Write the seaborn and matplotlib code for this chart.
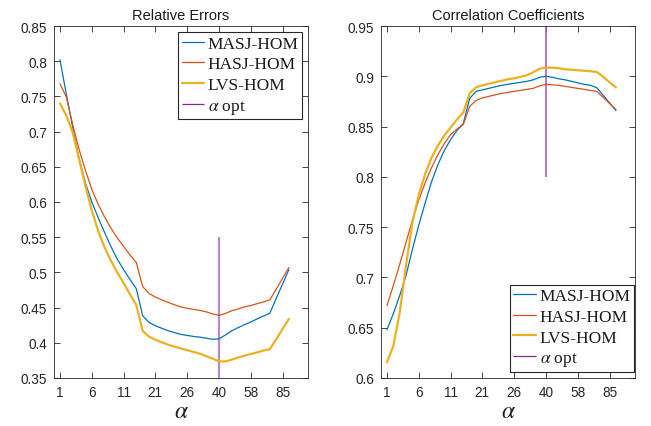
import matplotlib
matplotlib.use("Agg")
import matplotlib.pyplot as plt
import seaborn as sns
import numpy as np
import pandas as pd

# ---------------- data ----------------
idx = list(range(1, 38))
xtick_pos = [1, 6, 11, 16, 21, 26, 31, 36]
xtick_labels = ['1', '6', '11', '21', '26', '40', '58', '85']
alpha_opt = 26

re_masj = [0.802, 0.753, 0.706, 0.662, 0.627, 0.600, 0.578, 0.557, 0.537, 0.519,
           0.504, 0.490, 0.477, 0.4385, 0.429, 0.4243, 0.4206, 0.4172, 0.4144, 0.412,
           0.4105, 0.409, 0.408, 0.4065, 0.405, 0.4055, 0.411, 0.417, 0.4215, 0.4257,
           0.4295, 0.434, 0.438, 0.442, 0.463, 0.4835, 0.504]
re_hasj = [0.768, 0.749, 0.710, 0.675, 0.645, 0.618, 0.597, 0.579, 0.563, 0.549,
           0.537, 0.525, 0.514, 0.480, 0.470, 0.465, 0.461, 0.4575, 0.454, 0.451,
           0.449, 0.4475, 0.446, 0.444, 0.441, 0.439, 0.4415, 0.4456, 0.448, 0.451,
           0.453, 0.4556, 0.458, 0.461, 0.476, 0.4916, 0.507]
re_lvs = [0.740, 0.7226, 0.699, 0.661, 0.623, 0.588, 0.559, 0.536, 0.5166, 0.500,
          0.485, 0.469, 0.4537, 0.417, 0.4087, 0.4044, 0.4007, 0.3973, 0.3945, 0.392,
          0.3895, 0.387, 0.3845, 0.381, 0.3775, 0.3737, 0.3735, 0.376, 0.379, 0.3817,
          0.384, 0.3865, 0.389, 0.391, 0.405, 0.4196, 0.434]

cc_masj = [0.648, 0.664, 0.682, 0.702, 0.728, 0.752, 0.774, 0.795, 0.812, 0.826,
           0.837, 0.846, 0.853, 0.878, 0.885, 0.8865, 0.888, 0.8895, 0.891, 0.892,
           0.893, 0.894, 0.895, 0.8965, 0.899, 0.900, 0.899, 0.8975, 0.8965, 0.895,
           0.8935, 0.892, 0.891, 0.8886, 0.881, 0.8735, 0.866]
cc_hasj = [0.672, 0.692, 0.713, 0.735, 0.757, 0.777, 0.794, 0.809, 0.822, 0.833,
           0.842, 0.8475, 0.852, 0.870, 0.876, 0.8785, 0.880, 0.8815, 0.883, 0.884,
           0.885, 0.886, 0.887, 0.888, 0.8905, 0.892, 0.8915, 0.891, 0.890, 0.889,
           0.888, 0.887, 0.886, 0.885, 0.879, 0.873, 0.867]
cc_lvs = [0.6156, 0.632, 0.665, 0.712, 0.755, 0.782, 0.803, 0.819, 0.831, 0.841,
          0.849, 0.857, 0.864, 0.883, 0.889, 0.891, 0.8925, 0.894, 0.8955, 0.897,
          0.898, 0.8995, 0.901, 0.904, 0.9075, 0.9088, 0.9085, 0.908, 0.907, 0.9065,
          0.906, 0.9055, 0.905, 0.9043, 0.8995, 0.894, 0.889]

series_names = ['MASJ-HOM', 'HASJ-HOM', 'LVS-HOM']
colors = ['#0072BD', '#D95319', '#EDB120']
widths = [0.9, 0.9, 1.6]

# ---------------- style ----------------
sns.set_theme(style="white")
plt.rcParams['font.family'] = ['Liberation Sans', 'DejaVu Sans']
plt.rcParams['mathtext.fontset'] = 'stix'

fig = plt.figure(figsize=(6.51, 4.27), dpi=100)
axL = fig.add_axes([54/651, 48/427, 254/651, 352/427])
axR = fig.add_axes([381/651, 48/427, 254/651, 352/427])

def style_axes(ax, yticks, ylim, title):
    ax.set_xlim(0.06, 40)
    ax.set_ylim(*ylim)
    ax.set_xticks(xtick_pos)
    ax.set_xticklabels(xtick_labels)
    ax.set_yticks(yticks)
    ax.set_yticklabels([('%g' % v) for v in yticks])
    ax.tick_params(direction='in', length=4, width=0.6, colors='#262626',
                   labelsize=9.8, top=True, right=True, bottom=True, left=True, pad=5)
    for sp in ax.spines.values():
        sp.set_visible(True)
        sp.set_color('#262626')
        sp.set_linewidth(0.6)
    ax.set_title(title, fontsize=10.5, color='#1a1a1a', pad=5)
    ax.set_xlabel(r'$\alpha$', fontsize=17, labelpad=1, color='#1a1a1a')
    ax.set_ylabel('')

def draw(ax, data, vline_lo, vline_hi, vcolor, vlw):
    for name, vals, c, w in zip(series_names, data, colors, widths):
        df = pd.DataFrame({'idx': idx, 'val': vals})
        sns.lineplot(data=df, x='idx', y='val', ax=ax, color=c, linewidth=w,
                     label=name, errorbar=None)
    ax.vlines(alpha_opt, vline_lo, vline_hi, colors=vcolor, linewidth=vlw,
              label=r'$\alpha$ opt', zorder=1)

draw(axL, [re_masj, re_hasj, re_lvs], 0.35, 0.55, '#b48cc4', 1.6)
draw(axR, [cc_masj, cc_hasj, cc_lvs], 0.80, 0.95, '#9a55b0', 1.1)

style_axes(axL, [0.35, 0.4, 0.45, 0.5, 0.55, 0.6, 0.65, 0.7, 0.75, 0.8, 0.85],
           (0.35, 0.85), 'Relative Errors')
style_axes(axR, [0.6, 0.65, 0.7, 0.75, 0.8, 0.85, 0.9, 0.95],
           (0.6, 0.95), 'Correlation Coefficients')

leg_kw = dict(prop={'family': 'Liberation Serif', 'size': 12.5}, frameon=True,
              fancybox=False, framealpha=1, edgecolor='#262626', borderpad=0.2,
              handlelength=1.3, handletextpad=0.2, labelspacing=0.26,
              borderaxespad=0)
lgL = axL.legend(loc='upper right', bbox_to_anchor=(0.977, 0.983), **leg_kw)
lgR = axR.legend(loc='lower right', bbox_to_anchor=(0.996, 0.018), **leg_kw)
handle_widths = [0.9, 0.9, 1.6, 0.9]
handle_colors = colors + ['#7E2F8E']
for lg in (lgL, lgR):
    lg.get_frame().set_linewidth(0.8)
    for h, w, c in zip(lg.legend_handles, handle_widths, handle_colors):
        h.set_linewidth(w)
        h.set_color(c)
    for t in lg.get_texts():
        t.set_color('#1a1a1a')

fig.savefig('out.png', dpi=100)
